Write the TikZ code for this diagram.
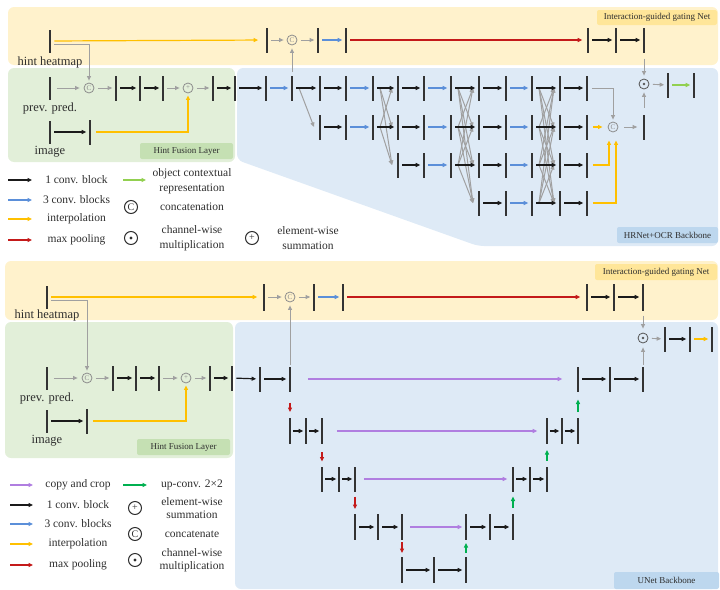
\documentclass[tikz,border=0pt]{standalone}
\usepackage{fontspec}
\setmainfont{Liberation Serif}
\usetikzlibrary{arrows.meta}
\definecolor{bgO}{HTML}{FFF2CC}
\definecolor{bgG}{HTML}{E2EFD9}
\definecolor{bgB}{HTML}{DEEAF6}
\definecolor{labO}{HTML}{FFE699}
\definecolor{labG}{HTML}{C5E0B3}
\definecolor{labB}{HTML}{BDD7EE}
\definecolor{yelc}{HTML}{FFC000}
\definecolor{bluc}{HTML}{5B8FD9}
\definecolor{redc}{HTML}{C41A1A}
\definecolor{gryc}{HTML}{A0A0A0}
\definecolor{purc}{HTML}{B07EE0}
\definecolor{grnU}{HTML}{00B050}
\definecolor{grnO}{HTML}{92D050}
\definecolor{blkc}{HTML}{1A1A1A}
\definecolor{barc}{HTML}{333333}
\definecolor{txtc}{HTML}{2E2E2E}
\definecolor{opcol}{HTML}{8C8C8C}
\definecolor{odc}{HTML}{555555}
\begin{document}
\begin{tikzpicture}[x=1pt,y=-1pt,>={Triangle[length=4.5pt,width=4pt]},
  bar/.style={fill=barc,draw=none,minimum width=1.7pt,minimum height=25pt,inner sep=0pt,outer sep=0pt},
  con/.style={->,shorten <=3.5pt,shorten >=3pt},
  kb/.style={con,draw=blkc,line width=1.2pt},
  bb/.style={con,draw=bluc,line width=1.1pt},
  yb/.style={con,draw=yelc,line width=1.2pt},
  rb/.style={con,draw=redc,line width=1.2pt},
  gb/.style={con,draw=gryc,line width=0.9pt},
  pb/.style={con,draw=purc,line width=1.2pt},
  ub/.style={con,draw=grnU,line width=1.1pt},
  ob/.style={con,draw=grnO,line width=1.1pt},
  xg/.style={->,draw=gryc,line width=1pt},
  opc/.style={circle,draw=opcol,line width=0.8pt,minimum size=10pt,inner sep=0pt,font=\fontsize{7}{7}\selectfont,text=opcol},
  lop/.style={circle,draw=txtc,line width=1pt,minimum size=13pt,inner sep=0pt,font=\fontsize{10}{10}\selectfont,text=txtc},
  lab/.style={rounded corners=2pt,minimum height=15pt,inner sep=0pt,font=\fontsize{9}{10}\selectfont,text=txtc},
  tx/.style={font=\fontsize{11.5}{14.5}\selectfont,text=txtc,align=center,inner sep=0pt},
  txb/.style={font=\fontsize{11.5}{13.5}\selectfont,text=txtc,align=center,inner sep=0pt},
  nm/.style={font=\fontsize{12.5}{13}\selectfont,text=txtc,inner sep=0pt}]
\useasboundingbox (0,0) rectangle (720,589);

% ---------------- backgrounds ----------------
\fill[bgO,rounded corners=6pt] (8,7) rectangle (718,65);
\fill[bgG,rounded corners=6pt] (8,68) rectangle (235,162);
\fill[bgB,rounded corners=6pt] (237,68) -- (718,68) -- (718,246) -- (478,246) -- (237,160) -- cycle;
\fill[bgO,rounded corners=6pt] (5,261) rectangle (718,320);
\fill[bgG,rounded corners=6pt] (5,322) rectangle (233,458);
\fill[bgB,rounded corners=6pt] (235,322) rectangle (718,589);

\node[lab,fill=labO,minimum width=120pt] (tlabI) at (657,17.5) {Interaction-guided gating Net};
\node[lab,fill=labG,minimum width=93pt,minimum height=16pt] (tlabH) at (186.5,151) {Hint Fusion Layer};
\node[lab,fill=labB,minimum width=101pt,minimum height=16pt] (tlabB) at (667.5,235) {HRNet+OCR Backbone};
\node[lab,fill=labO,minimum width=122pt,minimum height=16pt] (blabI) at (656,272) {Interaction-guided gating Net};
\node[lab,fill=labG,minimum width=93pt,minimum height=16pt] (blabH) at (183.5,447) {Hint Fusion Layer};
\node[lab,fill=labB,minimum width=105pt,minimum height=17pt] (blabB) at (666.5,580.5) {UNet Backbone};

% ================= TOP: HRNet+OCR =================
\node[bar,minimum height=23pt] (thh) at (50,41) {};
\node[nm] (thht) at (50,62) {hint heatmap};
\node[bar,minimum height=23pt] (tpp) at (50,88) {};
\node[nm] (tppt) at (50,108) {prev. pred.};
\node[bar,minimum height=23pt] (tim1) at (50,132) {};
\node[bar] (tim2) at (90,132) {};
\node[nm] (timt) at (50,152) {image};

\node[bar] (tg1) at (267,40) {};
\node[opc] (tgc) at (292,40) {C};
\node[bar] (tg3) at (318,40) {};
\node[bar] (tg4) at (346,40) {};
\node[bar] (tg5) at (588,40) {};
\node[bar] (tg6) at (616,40) {};
\node[bar] (tg7) at (644,40) {};

\node[opc] (tc1) at (89,88) {C};
\node[bar] (tf1) at (116,88) {};
\node[bar] (tf2) at (140,88) {};
\node[bar] (tf3) at (163,88) {};
\node[opc] (ts1) at (188,88) {+};

\foreach \x [count=\c] in {213,235,266,292,320,346,373,398,424,451,479,506,532,560,587}{
  \node[bar] (b1-\c) at (\x,88) {};
  \ifnum\c>4 \node[bar] (b2-\c) at (\x,127) {};\fi
  \ifnum\c>7 \node[bar] (b3-\c) at (\x,165) {};\fi
  \ifnum\c>10 \node[bar] (b4-\c) at (\x,203) {};\fi
}

\node[opc] (tcc) at (613,127) {C};
\node[bar] (tbo) at (644,127) {};
\node[opc,draw=odc] (tod) at (644,84) {};
\fill[odc] (tod) circle (1.3pt);
\node[bar] (tbo2) at (668,85) {};
\node[bar] (tbo3) at (694,85) {};

% exchange units
\foreach \c/\ns/\nt in {4/1/2,7/2/3,10/3/4,13/4/4}{
  \pgfmathtruncatemacro\n{\c+1}
  \foreach \s in {1,...,\ns}{
    \foreach \t in {1,...,\nt}{
      \ifnum\s=\t\relax\else
        \draw[xg] ([xshift=7pt]b\s-\c.center) -- ([xshift=-6pt]b\t-\n.center);
      \fi
    }
  }
}
% stream arrows
\foreach \r/\st in {1/1,2/5,3/8,4/11}{
  \foreach \c in {\st,...,14}{
    \pgfmathtruncatemacro\n{\c+1}
    \pgfmathtruncatemacro\m{mod(\c,3)}
    \ifnum\m=0 \draw[bb] (b\r-\c) -- (b\r-\n);
    \else \draw[kb] (b\r-\c) -- (b\r-\n);
    \fi
  }
}

% gating row
\draw[yb,shorten >=8pt] (thh) -- (tg1);
\draw[gb,shorten >=2pt] ([yshift=-3pt]thh.east) -| (tc1);
\draw[gb] (tg1) -- (tgc);
\draw[gb] (tgc) -- (tg3);
\draw[bb] (tg3) -- (tg4);
\draw[rb,shorten >=5pt] (tg4) -- (tg5);
\draw[kb] (tg5) -- (tg6);
\draw[kb] (tg6) -- (tg7);
\draw[gb] (b1-4) -- (tgc);
% fusion
\draw[gb,shorten <=6pt,shorten >=4pt] (tpp) -- (tc1);
\draw[gb] (tc1) -- (tf1);
\draw[kb] (tf1) -- (tf2);
\draw[kb] (tf2) -- (tf3);
\draw[gb] (tf3) -- (ts1);
\draw[gb] (ts1) -- (b1-1);
\draw[kb] (tim1) -- (tim2);
\draw[yb,shorten <=5pt,shorten >=2pt] (tim2) -| (ts1);
% OCR head
\draw[gb,shorten <=4pt,shorten >=2pt] (b1-15) -| (tcc);
\draw[yb,shorten <=5pt,shorten >=5pt] (b2-15) -- (tcc);
\draw[yb,shorten <=5pt,shorten >=8pt] (b3-15) -| ([xshift=-4pt]tcc.south);
\draw[yb,shorten <=5pt,shorten >=8pt] (b4-15) -| ([xshift=3pt]tcc.south);
\draw[gb,shorten <=6pt,shorten >=6pt] (tcc) -- (tbo);
\draw[gb,shorten <=7pt,shorten >=3pt] (tbo) -- (tod);
\draw[gb,shorten <=6pt,shorten >=3pt] (tg7) -- (tod);
\draw[gb] (tod) -- (tbo2);
\draw[ob] (tbo2) -- (tbo3);

% legend top
\coordinate (la1) at (8,180); \coordinate (lb1) at (32,180);
\coordinate (la2) at (8,200); \coordinate (lb2) at (32,200);
\coordinate (la3) at (8,219); \coordinate (lb3) at (32,219);
\coordinate (la4) at (8,240); \coordinate (lb4) at (32,240);
\coordinate (la5) at (123,180); \coordinate (lb5) at (146,180);
\draw[kb,shorten <=0pt,shorten >=0pt] (la1) -- (lb1);
\draw[bb,shorten <=0pt,shorten >=0pt] (la2) -- (lb2);
\draw[yb,shorten <=0pt,shorten >=0pt] (la3) -- (lb3);
\draw[rb,shorten <=0pt,shorten >=0pt] (la4) -- (lb4);
\draw[ob,shorten <=0pt,shorten >=0pt] (la5) -- (lb5);
\node[tx] (lt1) at (76.5,180) {1 conv. block};
\node[tx] (lt2) at (76.5,200) {3 conv. blocks};
\node[tx] (lt3) at (76.5,219) {interpolation};
\node[tx] (lt4) at (76.5,240) {max pooling};
\node[tx] (lt5) at (192,181) {object contextual\\representation};
\node[lop] (lc1) at (131,207) {C};
\node[tx] (lt6) at (192,207) {concatenation};
\node[lop] (lo1) at (131,238) {};
\fill[txtc] (lo1) circle (1.6pt);
\node[tx] (lt7) at (192,238) {channel-wise\\multiplication};
\node[lop] (lp1) at (252,238) {+};
\node[tx] (lt8) at (308,238) {element-wise\\summation};

% ================= BOTTOM: UNet =================
\node[bar,minimum height=23pt] (bhh) at (47,297) {};
\node[nm] (bhht) at (47,315) {hint heatmap};
\node[bar,minimum height=23pt] (bpp) at (47,378) {};
\node[nm] (bppt) at (47,398) {prev. pred.};
\node[bar,minimum height=23pt] (bim1) at (47,421) {};
\node[bar] (bim2) at (87,421) {};
\node[nm] (bimt) at (47,441) {image};

\node[bar,minimum height=27pt] (bg1) at (264,297) {};
\node[opc] (bgc) at (290,297) {C};
\node[bar,minimum height=27pt] (bg3) at (314,297) {};
\node[bar,minimum height=27pt] (bg4) at (343,297) {};
\node[bar,minimum height=27pt] (bg5) at (587,297) {};
\node[bar,minimum height=27pt] (bg6) at (614,297) {};
\node[bar,minimum height=27pt] (bg7) at (643,297) {};

\node[opc] (bc1) at (87,378) {C};
\node[bar] (bf1) at (113,378) {};
\node[bar] (bf2) at (136,378) {};
\node[bar] (bf3) at (159,378) {};
\node[opc] (bs1) at (186,378) {+};
\node[bar] (bf4) at (210,378) {};
\node[bar] (bf5) at (232,378) {};
\node[bar] (u1a) at (260,379) {};
\node[bar] (u1b) at (290,379) {};
\node[bar] (u1c) at (578,379) {};
\node[bar] (u1d) at (610,379) {};
\node[bar] (u1e) at (643,379) {};

\node[opc,draw=odc] (bod) at (643,338) {};
\fill[odc] (bod) circle (1.3pt);
\node[bar] (bo2) at (665,339) {};
\node[bar] (bo3) at (690,339) {};
\node[bar] (bo4) at (712,339) {};

\node[bar,minimum height=26pt] (u2a) at (290,431) {};
\node[bar,minimum height=26pt] (u2b) at (306,431) {};
\node[bar,minimum height=26pt] (u2c) at (322,431) {};
\node[bar,minimum height=26pt] (u2d) at (547,431) {};
\node[bar,minimum height=26pt] (u2e) at (562,431) {};
\node[bar,minimum height=26pt] (u2f) at (578,431) {};

\node[bar] (u3a) at (322,479) {};
\node[bar] (u3b) at (339,479) {};
\node[bar] (u3c) at (355,479) {};
\node[bar] (u3d) at (513,479) {};
\node[bar] (u3e) at (530,479) {};
\node[bar] (u3f) at (547,479) {};

\node[bar,minimum height=26pt] (u4a) at (355,527) {};
\node[bar,minimum height=26pt] (u4b) at (378,527) {};
\node[bar,minimum height=26pt] (u4c) at (402,527) {};
\node[bar,minimum height=26pt] (u4d) at (466,527) {};
\node[bar,minimum height=26pt] (u4e) at (490,527) {};
\node[bar,minimum height=26pt] (u4f) at (513,527) {};

\node[bar,minimum height=26pt] (u5a) at (402,570) {};
\node[bar,minimum height=26pt] (u5b) at (434,570) {};
\node[bar,minimum height=26pt] (u5c) at (466,570) {};

% gating row
\draw[yb,shorten >=6pt] (bhh) -- (bg1);
\draw[gb,shorten >=2pt] ([yshift=-3pt]bhh.east) -| (bc1);
\draw[gb] (bg1) -- (bgc);
\draw[gb] (bgc) -- (bg3);
\draw[bb] (bg3) -- (bg4);
\draw[rb,shorten >=6pt] (bg4) -- (bg5);
\draw[kb] (bg5) -- (bg6);
\draw[kb] (bg6) -- (bg7);
\draw[gb,shorten <=2pt] (u1b) -- (bgc);
% fusion
\draw[gb,shorten <=6pt,shorten >=4pt] (bpp) -- (bc1);
\draw[gb] (bc1) -- (bf1);
\draw[kb] (bf1) -- (bf2);
\draw[kb] (bf2) -- (bf3);
\draw[gb] (bf3) -- (bs1);
\draw[gb] (bs1) -- (bf4);
\draw[kb] (bf4) -- (bf5);
\draw[kb] (bf5) -- (u1a);
\draw[kb] (bim1) -- (bim2);
\draw[yb,shorten <=5pt,shorten >=2pt] (bim2) -| (bs1);
% unet
\draw[kb] (u1a) -- (u1b);
\draw[pb,shorten <=17pt,shorten >=15pt] (u1b) -- (u1c);
\draw[kb] (u1c) -- (u1d);
\draw[kb] (u1d) -- (u1e);
\draw[kb,shorten <=2pt,shorten >=2pt] (u2a) -- (u2b);
\draw[kb,shorten <=2pt,shorten >=2pt] (u2b) -- (u2c);
\draw[pb,shorten <=14pt,shorten >=9pt] (u2c) -- (u2d);
\draw[kb,shorten <=2pt,shorten >=2pt] (u2d) -- (u2e);
\draw[kb,shorten <=2pt,shorten >=2pt] (u2e) -- (u2f);
\draw[kb,shorten <=2.5pt,shorten >=2pt] (u3a) -- (u3b);
\draw[kb,shorten <=2.5pt,shorten >=2pt] (u3b) -- (u3c);
\draw[pb,shorten <=8pt,shorten >=5pt] (u3c) -- (u3d);
\draw[kb,shorten <=2.5pt,shorten >=2pt] (u3d) -- (u3e);
\draw[kb,shorten <=2.5pt,shorten >=2pt] (u3e) -- (u3f);
\draw[kb] (u4a) -- (u4b);
\draw[kb] (u4b) -- (u4c);
\draw[pb,shorten <=7pt,shorten >=3pt] (u4c) -- (u4d);
\draw[kb] (u4d) -- (u4e);
\draw[kb] (u4e) -- (u4f);
\draw[kb] (u5a) -- (u5b);
\draw[kb] (u5b) -- (u5c);
\draw[rb,shorten <=11pt,shorten >=6pt] (u1b) -- (u2a);
\draw[rb,shorten <=8pt,shorten >=5pt] (u2c) -- (u3a);
\draw[rb,shorten <=5pt,shorten >=5pt] (u3c) -- (u4a);
\draw[rb,shorten <=2pt,shorten >=4pt] (u4c) -- (u5a);
\draw[ub,shorten <=6pt,shorten >=8pt] (u2f) -- (u1c);
\draw[ub,shorten <=6pt,shorten >=6pt] (u3f) -- (u2d);
\draw[ub,shorten <=6pt,shorten >=5pt] (u4f) -- (u3d);
\draw[ub,shorten <=4pt,shorten >=3pt] (u5c) -- (u4d);
% head
\draw[gb,shorten <=5pt,shorten >=4pt] (bg7) -- (bod);
\draw[gb,shorten <=2pt,shorten >=4pt] (u1e) -- (bod);
\draw[gb] (bod) -- (bo2);
\draw[kb] (bo2) -- (bo3);
\draw[yb] (bo3) -- (bo4);

% legend bottom
\coordinate (ma1) at (10,485); \coordinate (mb1) at (33,485);
\coordinate (ma2) at (10,505); \coordinate (mb2) at (33,505);
\coordinate (ma3) at (10,524); \coordinate (mb3) at (33,524);
\coordinate (ma4) at (10,544); \coordinate (mb4) at (33,544);
\coordinate (ma5) at (10,565); \coordinate (mb5) at (33,565);
\coordinate (ma6) at (123,485); \coordinate (mb6) at (147,485);
\draw[pb,shorten <=0pt,shorten >=0pt] (ma1) -- (mb1);
\draw[kb,shorten <=0pt,shorten >=0pt] (ma2) -- (mb2);
\draw[bb,shorten <=0pt,shorten >=0pt] (ma3) -- (mb3);
\draw[yb,shorten <=0pt,shorten >=0pt] (ma4) -- (mb4);
\draw[rb,shorten <=0pt,shorten >=0pt] (ma5) -- (mb5);
\draw[ub,shorten <=0pt,shorten >=0pt] (ma6) -- (mb6);
\node[txb] (mt1) at (78,485) {copy and crop};
\node[txb] (mt2) at (78,505) {1 conv. block};
\node[txb] (mt3) at (78,524) {3 conv. blocks};
\node[txb] (mt4) at (78,544) {interpolation};
\node[txb] (mt5) at (78,565) {max pooling};
\node[txb] (mt6) at (192,485) {up-conv. 2×2};
\node[lop] (mp1) at (135,508) {+};
\node[txb] (mt7) at (192,508) {element-wise\\summation};
\node[lop] (mc1) at (135,534) {C};
\node[txb] (mt8) at (192,534) {concatenate};
\node[lop] (mo1) at (135,560) {};
\fill[txtc] (mo1) circle (1.6pt);
\node[txb] (mt9) at (192,560) {channel-wise\\multiplication};
\end{tikzpicture}
\end{document}
